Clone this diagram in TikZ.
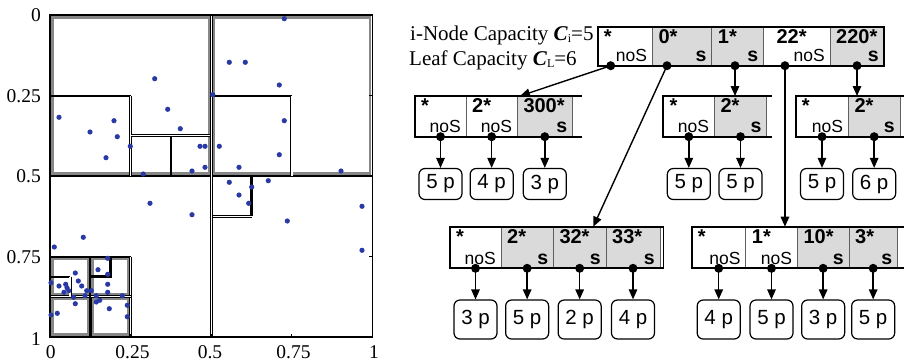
\documentclass[tikz,border=0pt]{standalone}
\usepackage{fontspec}
\setmainfont{Liberation Serif}
\setsansfont{Liberation Sans}
\usetikzlibrary{arrows.meta}
\definecolor{ptblue}{RGB}{42,58,165}
\definecolor{cellgray}{RGB}{218,218,218}
\definecolor{boxgray}{RGB}{135,135,135}
\definecolor{divgray}{RGB}{95,95,95}

% one entry of a tree node: name, left, right, top, bottom, fill, prefix, flag, flag style
\newcommand\tcell[9]{%
  \node[cellbox,fill=#6,minimum width={(#3)-(#2)},minimum height={(#5)-(#4)},anchor=north west] (#1) at (#2,#4) {};
  \node[toplab,anchor=north west] (#1t) at ([shift={(6,2.5)}]#1.north west) {#7};
  \node[#9,anchor=base east] (#1b) at ([shift={(-5,-3.8)}]#1.south east) {#8};
}

\begin{document}
\begin{tikzpicture}[x=1pt,y=-1pt,
  serl/.style={font=\fontsize{19.5}{22}\selectfont,inner sep=0},
  capl/.style={font=\fontsize{21}{24}\selectfont,inner sep=0},
  grayin/.style={draw=boxgray,line width=2.5pt},
  blk/.style={draw=black,line width=2pt},
  thk/.style={draw=black,line width=2.8pt},
  dbl/.style={draw=black,line width=0.9pt,double=white,double distance=1.4pt},
  frm/.style={draw=black,line width=1.9pt},
  cellbox/.style={rectangle,draw=divgray,line width=1pt,inner sep=0,outer sep=0},
  toplab/.style={font=\sffamily\bfseries\fontsize{20}{20}\selectfont,inner sep=0},
  nos/.style={font=\sffamily\fontsize{17.5}{17.5}\selectfont,inner sep=0},
  sl/.style={font=\sffamily\bfseries\fontsize{19.5}{19.5}\selectfont,inner sep=0},
  nframe/.style={draw=black,line width=1.8pt},
  dotn/.style={circle,fill=black,inner sep=0,minimum size=9pt},
  leaf/.style={rectangle,rounded corners=6pt,draw=black,line width=1.2pt,minimum width=43pt,
    inner sep=0,font=\sffamily\fontsize{20.5}{20.5}\selectfont},
  arr/.style={-{Triangle[length=10pt,width=8.5pt]},line width=1.4pt},
]
\useasboundingbox (0,0) rectangle (904,362);

% ---------------- space partitioning of the unit square ----------------
\begin{scope}[shift={(50,15)},x=322.5pt,y=-322pt]
  % node regions (gray inner frames)
  \foreach \a/\b/\c/\d in {0/0/.5/.5, .5/0/1/.5, 0/.75/.125/.875, .125/.75/.25/.875,
                            0/.875/.125/1, .125/.875/.25/1}
    \draw[grayin] (\a+0.0074,\b+0.0074) rectangle (\c-0.0074,\d-0.0074);
  % splits
  \draw[thk] (0,.5) -- (1,.5);
  \draw[blk] (0,.25) -- (.25,.25);
  \draw[dbl] (.25,.25) -- (.25,.5);
  \draw[dbl] (.25,.375) -- (.5,.375);
  \draw[thk] (.375,.375) -- (.375,.5);
  \draw[blk] (.5,.25) -- (.75,.25);
  \draw[dbl] (.75,.25) -- (.75,.5);
  \draw[thk] (.625,.5) -- (.625,.625);
  \draw[dbl] (.5,.625) -- (.625,.625);
  \draw[blk] (0,.75) -- (.25,.75);
  \draw[dbl] (.25,.75) -- (.25,1);
  \draw[dbl] (0,.875) -- (.25,.875);
  \draw[blk] (.125,.75) -- (.125,.875);
  \draw[thk] (.125,.875) -- (.125,1);
  \draw[blk] (0,.8125) -- (.0625,.8125);
  \draw[dbl] (.0625,.8125) -- (.0625,.875);
  \draw[thk] (.1875,.75) -- (.1875,.8125) -- (.125,.8125);
  \draw[dbl] (.5,0) -- (.5,1);
  \draw[frm] (0,0) rectangle (1,1);
  % ticks
  \foreach \t in {.25,.5,.75} {
    \draw[line width=0.8pt] (\t,1) -- (\t,0.99);
    \draw[line width=0.8pt] (1,\t) -- (0.99,\t);
  }
\end{scope}

% axis labels
\node[serl,anchor=east] (yl0) at (41,15) {0};
\node[serl,anchor=east] (yl1) at (41,96) {0.25};
\node[serl,anchor=east] (yl2) at (41,176.5) {0.5};
\node[serl,anchor=east] (yl3) at (41,257.5) {0.75};
\node[serl,anchor=east] (yl4) at (41,339) {1};
\node[serl] (xl0) at (50.7,352) {0};
\node[serl] (xl1) at (132.5,352) {0.25};
\node[serl] (xl2) at (210,352) {0.5};
\node[serl] (xl3) at (293.5,352) {0.75};
\node[serl] (xl4) at (374,352) {1};

% data points
\foreach \x/\y in {284.3/18.7, 229.3/62.3, 245.3/62.3, 279.3/85, 154.7/78.7, 212.7/94.7,
  167.7/109.3, 284.3/120.7, 59/117.3, 114/120.7, 90/132, 180.3/128.7, 117.3/136.7,
  130.3/146.3, 200/146.3, 205/146.3, 219.3/146.3, 279.3/154.7, 106/157.7, 205/167.3,
  239/167.3, 192/171, 341/171, 143.3/174, 229.3/182.3, 268.3/180.7, 251.7/187,
  239/195, 248.7/203.3, 150/203.3, 192/214.7, 362/206.3, 287.3/221, 83.3/237.3,
  54.3/247, 362/250.3, 107.7/258.3, 98/269.7, 107.7/274.3, 75.3/273, 78.3/281,
  51/282.7, 59/286, 65.7/284.3, 81.7/286, 107.7/284.3, 67/287.7, 68.7/290.7,
  64/292.3, 86.7/290.7, 91.3/290.7, 107.7/292.3, 85/295.7, 96.3/295.7, 122.3/295.7,
  73.7/297.3, 99.7/300.3, 96.3/302, 75.3/303.7, 127.3/305.3, 109.3/308.7,
  57.3/313.3, 51/315, 127.3/316.7}
  \fill[ptblue] (\x,\y) circle[radius=2.6];

% ---------------- tree ----------------
\node[capl,anchor=base west] (cap1) at (410,40)
  {i-Node Capacity \textbf{\textit{C}}\raisebox{-2.5pt}{\fontsize{12}{12}\selectfont i}=5};
\node[capl,anchor=base west] (cap2) at (409,65)
  {Leaf Capacity \textbf{\textit{C}}\raisebox{-2.5pt}{\fontsize{12}{12}\selectfont L}=6};

% root
\tcell{r1}{597.7}{652.3}{26.7}{65.7}{white}{*}{noS}{nos}
\tcell{r2}{652.3}{711.7}{26.7}{65.7}{cellgray}{0*}{s}{sl}
\tcell{r3}{711.7}{763.3}{26.7}{65.7}{cellgray}{1*}{s}{sl}
\tcell{r4}{763.3}{830}{26.7}{65.7}{white}{\hspace*{7pt}22*}{noS}{nos}
\tcell{r5}{830}{884}{26.7}{65.7}{cellgray}{220*}{s}{sl}
\draw[nframe] (r1.north west) rectangle (r5.south east);

% second level
\tcell{a1}{415}{466}{96}{136.7}{white}{*}{noS}{nos}
\tcell{a2}{466}{517.3}{96}{136.7}{white}{2*}{noS}{nos}
\tcell{a3}{517.3}{572.3}{96}{136.7}{cellgray}{300*}{s}{sl}
\draw[nframe] ([xshift=9.4]a3.north east) -- (a1.north west) -- (a1.south west) -- ([xshift=9.4]a3.south east);

\tcell{m1}{663.3}{714.3}{96}{136.7}{white}{*}{noS}{nos}
\tcell{m2}{714.3}{766.7}{96}{136.7}{cellgray}{2*}{s}{sl}
\draw[nframe] ([xshift=5]m2.north east) -- (m1.north west) -- (m1.south west) -- ([xshift=5]m2.south east);

\tcell{q1}{795.7}{848.3}{96}{136.7}{white}{*}{noS}{nos}
\tcell{q2}{848.3}{900}{96}{136.7}{cellgray}{2*}{s}{sl}
\draw[nframe] ([xshift=10]q2.north east) -- (q1.north west) -- (q1.south west) -- ([xshift=10]q2.south east);

% third level
\tcell{b1}{450}{501}{226.7}{268.3}{white}{*}{noS}{nos}
\tcell{b2}{501}{553.3}{226.7}{268.3}{cellgray}{2*}{s}{sl}
\tcell{b3}{553.3}{606}{226.7}{268.3}{cellgray}{32*}{s}{sl}
\tcell{b4}{606}{660}{226.7}{268.3}{cellgray}{33*}{s}{sl}
\draw[nframe] (b1.north west) rectangle ([xshift=3.5]b4.south east);

\tcell{c1}{691.7}{745.7}{226.7}{268.3}{white}{*}{noS}{nos}
\tcell{c2}{745.7}{797.3}{226.7}{268.3}{white}{1*}{noS}{nos}
\tcell{c3}{797.3}{849}{226.7}{268.3}{cellgray}{10*}{s}{sl}
\tcell{c4}{849}{897.3}{226.7}{268.3}{cellgray}{3*}{s}{sl}
\draw[nframe] ([xshift=10]c4.north east) -- (c1.north west) -- (c1.south west) -- ([xshift=10]c4.south east);

% pointer dots
\node[dotn] (r1d) at ([xshift=-14.3]r1.south) {};
\node[dotn] (r2d) at ([xshift=-15]r2.south) {};
\node[dotn] (r3d) at ([xshift=-2.5]r3.south) {};
\node[dotn] (r4d) at ([xshift=-11.7]r4.south) {};
\node[dotn] (r5d) at (r5.south) {};
\foreach \n in {a1,a2,a3,m1,m2,q1,q2,b1,b2,b3,b4,c1,c2,c3,c4}
  \node[dotn] (\n d) at (\n.south) {};

% root pointers
\draw[arr] (r1d.center) -- ([xshift=2.7]a3.north west);
\draw[arr] (r2d.center) -- ([xshift=13.6]b3.north);
\draw[arr] (r3d.center) -- (r3d |- m2.north);
\draw[arr] (r4d.center) -- (r4d |- c2.north);
\draw[arr] (r5d.center) -- (r5d |- q2.north);

% leaves
\coordinate (rowtop) at (0,184);
\coordinate (rowbot) at (0,319.5);
\foreach \n/\t in {a1/5 p, a2/4 p, a3/3 p, m1/5 p, m2/5 p, q1/5 p, q2/6 p} {
  \node[leaf,minimum height=31pt] (\n l) at (\n d |- rowtop) {\t};
  \draw[arr] (\n d.center) -- (\n l.north);
}
\foreach \n/\t in {b1/3 p, b2/5 p, b3/2 p, b4/4 p, c1/4 p, c2/5 p, c3/3 p, c4/5 p} {
  \node[leaf,minimum height=39pt] (\n l) at (\n d |- rowbot) {\t};
  \draw[arr] (\n d.center) -- (\n l.north);
}
\end{tikzpicture}
\end{document}
